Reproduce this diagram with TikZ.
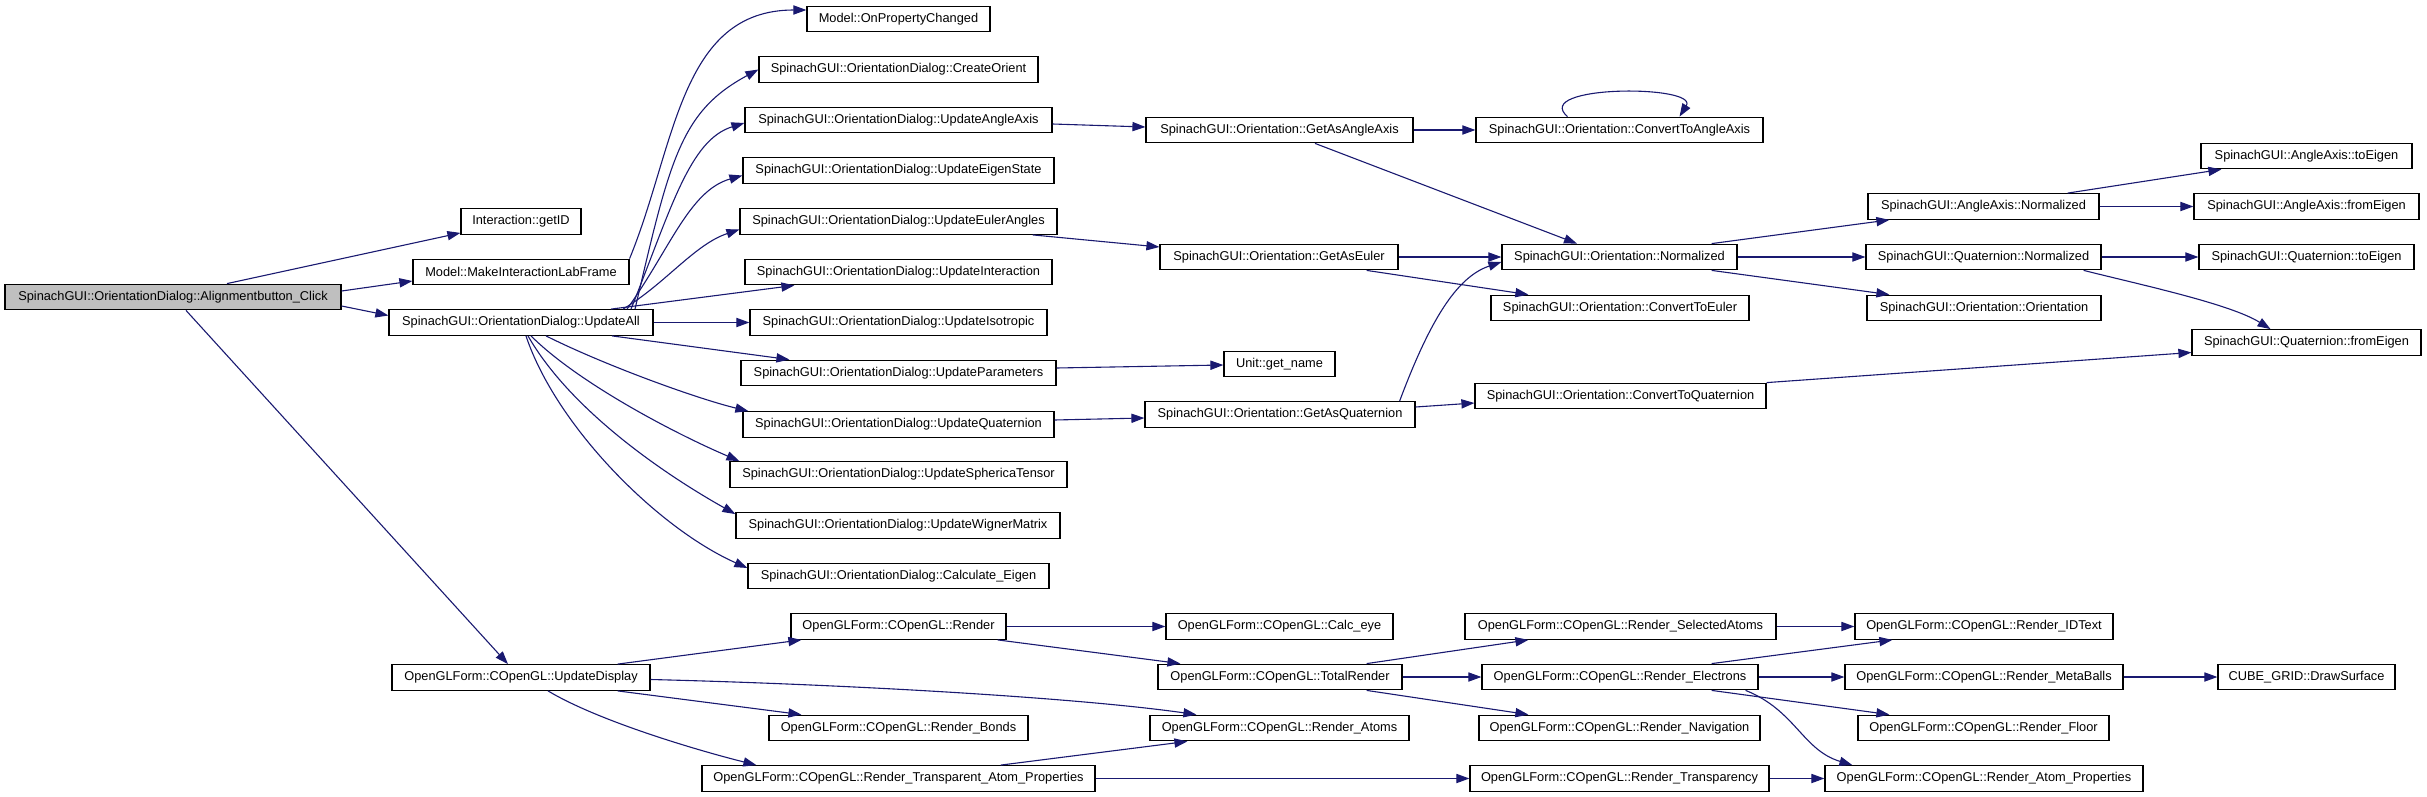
\documentclass[tikz,border=0pt]{standalone}
\usepackage{fontspec}
\setmainfont{Liberation Sans}
\usetikzlibrary{arrows.meta}
\definecolor{edge}{RGB}{25,25,112}
\definecolor{focus}{RGB}{191,191,191}
\tikzset{
 box/.style={draw=black, fill=white, line width=.6pt, minimum height=12.8pt, inner sep=0pt,
             font=\fontsize{6.4}{7.6}\selectfont},
 flow/.style={-{Triangle[length=6.5pt,width=4.6pt]}, line width=.55pt, draw=edge}
}
\begin{document}
\begin{tikzpicture}[x=0.5pt,y=-0.5pt]
\useasboundingbox (0,0) rectangle (2427,797);

\node[box, fill=focus, minimum width=168pt] (click) at (173,297) {SpinachGUI::OrientationDialog::Alignmentbutton\_Click};
\node[box, minimum width=60pt] (getid) at (521,221.5) {Interaction::getID};
\node[box, minimum width=108pt] (milf) at (521,272) {Model::MakeInteractionLabFrame};
\node[box, minimum width=132pt] (updall) at (521,322.5) {SpinachGUI::OrientationDialog::UpdateAll};
\node[box, minimum width=129pt] (upddisp) at (521,677.5) {OpenGLForm::COpenGL::UpdateDisplay};

\node[box, minimum width=91.5pt] (onprop) at (898.5,19) {Model::OnPropertyChanged};
\node[box, minimum width=139.5pt] (create) at (898.5,69.5) {SpinachGUI::OrientationDialog::CreateOrient};
\node[box, minimum width=153.5pt] (updaa) at (898.5,120) {SpinachGUI::OrientationDialog::UpdateAngleAxis};
\node[box, minimum width=155.5pt] (updeig) at (898.5,170.5) {SpinachGUI::OrientationDialog::UpdateEigenState};
\node[box, minimum width=158.5pt] (updeul) at (898.5,221.5) {SpinachGUI::OrientationDialog::UpdateEulerAngles};
\node[box, minimum width=153.5pt] (updint) at (898.5,272) {SpinachGUI::OrientationDialog::UpdateInteraction};
\node[box, minimum width=148.5pt] (updiso) at (898.5,322.5) {SpinachGUI::OrientationDialog::UpdateIsotropic};
\node[box, minimum width=157.5pt] (updpar) at (898.5,373) {SpinachGUI::OrientationDialog::UpdateParameters};
\node[box, minimum width=155.5pt] (updq) at (898.5,424.5) {SpinachGUI::OrientationDialog::UpdateQuaternion};
\node[box, minimum width=168.5pt] (updsph) at (898.5,474.5) {SpinachGUI::OrientationDialog::UpdateSphericaTensor};
\node[box, minimum width=162pt] (updwig) at (898,525.5) {SpinachGUI::OrientationDialog::UpdateWignerMatrix};
\node[box, minimum width=150.5pt] (calceig) at (898.5,576) {SpinachGUI::OrientationDialog::Calculate\_Eigen};
\node[box, minimum width=107.5pt] (render) at (898.5,626.5) {OpenGLForm::COpenGL::Render};
\node[box, minimum width=129.5pt] (bonds) at (898.5,728) {OpenGLForm::COpenGL::Render\_Bonds};
\node[box, minimum width=196.5pt] (transp) at (898.5,778.5) {OpenGLForm::COpenGL::Render\_Transparent\_Atom\_Properties};

\node[box, minimum width=133.5pt] (getaa) at (1279.5,130) {SpinachGUI::Orientation::GetAsAngleAxis};
\node[box, minimum width=119pt] (geteul) at (1279,257) {SpinachGUI::Orientation::GetAsEuler};
\node[box, minimum width=55.5pt] (unitname) at (1279.5,364) {Unit::get\_name};
\node[box, minimum width=135pt] (getq) at (1280,414.5) {SpinachGUI::Orientation::GetAsQuaternion};
\node[box, minimum width=113.5pt] (calceye) at (1279.5,626.5) {OpenGLForm::COpenGL::Calc\_eye};
\node[box, minimum width=122pt] (totrender) at (1280,677) {OpenGLForm::COpenGL::TotalRender};
\node[box, minimum width=129.5pt] (atoms) at (1279.5,728) {OpenGLForm::COpenGL::Render\_Atoms};

\node[box, minimum width=143.5pt] (cvtaa) at (1619.5,130) {SpinachGUI::Orientation::ConvertToAngleAxis};
\node[box, minimum width=117.5pt] (onorm) at (1619.5,257) {SpinachGUI::Orientation::Normalized};
\node[box, minimum width=129pt] (cvteul) at (1620,308) {SpinachGUI::Orientation::ConvertToEuler};
\node[box, minimum width=145.5pt] (cvtq) at (1620.5,396) {SpinachGUI::Orientation::ConvertToQuaternion};
\node[box, minimum width=155.5pt] (selatoms) at (1620.5,626.5) {OpenGLForm::COpenGL::Render\_SelectedAtoms};
\node[box, minimum width=138pt] (electrons) at (1620,677) {OpenGLForm::COpenGL::Render\_Electrons};
\node[box, minimum width=140.5pt] (navig) at (1619.5,728) {OpenGLForm::COpenGL::Render\_Navigation};
\node[box, minimum width=149.5pt] (transpcy) at (1619.5,778.5) {OpenGLForm::COpenGL::Render\_Transparency};

\node[box, minimum width=115.5pt] (aanorm) at (1983.5,206.5) {SpinachGUI::AngleAxis::Normalized};
\node[box, minimum width=117.5pt] (qnorm) at (1983.5,257) {SpinachGUI::Quaternion::Normalized};
\node[box, minimum width=117pt] (oorient) at (1984,308) {SpinachGUI::Orientation::Orientation};
\node[box, minimum width=129pt] (idtext) at (1984,626.5) {OpenGLForm::COpenGL::Render\_IDText};
\node[box, minimum width=139pt] (metaballs) at (1984,677) {OpenGLForm::COpenGL::Render\_MetaBalls};
\node[box, minimum width=125.5pt] (floor) at (1983.5,728) {OpenGLForm::COpenGL::Render\_Floor};
\node[box, minimum width=159pt] (atomprop) at (1984,778.5) {OpenGLForm::COpenGL::Render\_Atom\_Properties};

\node[box, minimum width=105.5pt] (aatoeig) at (2306.5,156) {SpinachGUI::AngleAxis::toEigen};
\node[box, minimum width=112.5pt] (aafromeig) at (2306.5,206.5) {SpinachGUI::AngleAxis::fromEigen};
\node[box, minimum width=107.5pt] (qtoeig) at (2306.5,257) {SpinachGUI::Quaternion::toEigen};
\node[box, minimum width=114.5pt] (qfromeig) at (2306.5,342.5) {SpinachGUI::Quaternion::fromEigen};
\node[box, minimum width=88.5pt] (drawsurf) at (2306.5,677) {CUBE\_GRID::DrawSurface};

\draw[flow] ([xshift=27pt]click.north) -- ([yshift=1pt]getid.south west);
\draw[flow] ([yshift=3pt]click.east) -- ([yshift=-4.5pt]milf.west);
\draw[flow] ([yshift=-4.5pt]click.east) -- ([yshift=3.5pt]updall.west);
\draw[flow] ([xshift=6.5pt]click.south) -- ([xshift=-6.5pt]upddisp.north);
\draw[flow] (milf.north east) .. controls +(46,-112) and +(-127,0) .. ([yshift=4.5pt]onprop.west);

\draw[flow] ([xshift=57pt]updall.north) .. controls +(35,-150) and +(-78,42) .. (create.west);
\draw[flow] ([xshift=55pt]updall.north) .. controls +(40,-100) and +(-55,17) .. ([yshift=-1.5pt]updaa.west);
\draw[flow] ([xshift=53pt]updall.north) .. controls +(43,-60) and +(-53,15) .. ([yshift=-2.5pt]updeig.west);
\draw[flow] ([xshift=51pt]updall.north) .. controls +(42,-25) and +(-45,15) .. ([yshift=-4pt]updeul.west);
\draw[flow] ([xshift=45pt]updall.north) -- ([xshift=25pt]updint.south west);
\draw[flow] (updall.east) -- (updiso.west);
\draw[flow] ([xshift=45.5pt]updall.south) -- ([xshift=24.5pt]updpar.north west);
\draw[flow] ([xshift=12.5pt]updall.south) .. controls +(60,30) and +(-50,-12) .. ([xshift=3pt]updq.north west);
\draw[flow] ([xshift=5pt]updall.south) .. controls +(45,45) and +(-70,-30) .. ([xshift=5pt]updsph.north west);
\draw[flow] ([xshift=3.5pt]updall.south) .. controls +(40,70) and +(-80,-45) .. ([yshift=-1pt]updwig.north west);
\draw[flow] ([xshift=2.5pt]updall.south) .. controls +(30,90) and +(-90,-40) .. ([yshift=4pt]calceig.west);

\draw[flow] ([yshift=-2pt]updaa.east) -- ([yshift=1.5pt]getaa.west);
\draw[flow] (getaa.east) -- (cvtaa.west);
\draw[flow] ([xshift=-26pt]cvtaa.north) .. controls +(-37,-32) and +(20,-32) .. ([xshift=30pt]cvtaa.north);
\draw[flow] ([xshift=17.75pt]getaa.south) -- ([xshift=-21.25pt]onorm.north);
\draw[flow] ([xshift=-12.5pt]updeul.south east) -- ([yshift=5pt]geteul.west);
\draw[flow] (geteul.east) -- (onorm.west);
\draw[flow] ([xshift=-16pt]geteul.south east) -- ([xshift=19pt]cvteul.north west);
\draw[flow] ([yshift=2.5pt]updpar.east) -- ([yshift=-0.5pt]unitname.west);
\draw[flow] ([yshift=2.25pt]updq.east) -- ([yshift=-1.75pt]getq.west);
\draw[flow] ([xshift=-8pt]getq.north east) .. controls +(30,-80) and +(-45,15) .. ([yshift=-2.5pt]onorm.west);
\draw[flow] ([yshift=3.75pt]getq.east) -- ([yshift=-3.5pt]cvtq.west);
\draw[flow] ([xshift=-13pt]onorm.north east) -- ([xshift=11pt]aanorm.south west);
\draw[flow] (onorm.east) -- (qnorm.west);
\draw[flow] ([xshift=-13pt]onorm.south east) -- ([xshift=11.5pt]oorient.north west);
\draw[flow] ([xshift=-16pt]aanorm.north east) -- ([xshift=10.5pt]aatoeig.south west);
\draw[flow] (aanorm.east) -- (aafromeig.west);
\draw[flow] (qnorm.east) -- (qtoeig.west);
\draw[flow] ([xshift=-9pt]qnorm.south east) .. controls +(60,15) and +(-40,-25) .. ([xshift=-18pt]qfromeig.north);
\draw[flow] (cvtq.north east) -- ([yshift=-5pt]qfromeig.west);

\draw[flow] ([xshift=-16.5pt]upddisp.north east) -- ([xshift=5.5pt]render.south west);
\draw[flow] ([yshift=-1pt]upddisp.east) .. controls +(200,5) and +(-120,-17) .. ([xshift=23.5pt]atoms.north west);
\draw[flow] ([xshift=-16.5pt]upddisp.south east) -- ([xshift=16.5pt]bonds.north west);
\draw[flow] ([xshift=13.5pt]upddisp.south) .. controls +(50,30) and +(-60,-15) .. ([xshift=27.5pt]transp.north west);
\draw[flow] (render.east) -- (calceye.west);
\draw[flow] ([xshift=-4.5pt]render.south east) -- ([xshift=11.5pt]totrender.north west);
\draw[flow] ([xshift=-18pt]totrender.north east) -- ([xshift=32pt]selatoms.south west);
\draw[flow] (totrender.east) -- (electrons.west);
\draw[flow] ([xshift=-18pt]totrender.south east) -- ([xshift=25pt]navig.north west);
\draw[flow] ([xshift=-47.5pt]transp.north east) -- ([xshift=19pt]atoms.south west);
\draw[flow] (transp.east) -- (transpcy.west);
\draw[flow] (selatoms.east) -- (idtext.west);
\draw[flow] ([xshift=-23.5pt]electrons.north east) -- ([xshift=19pt]idtext.south west);
\draw[flow] (electrons.east) -- (metaballs.west);
\draw[flow] ([xshift=-23.5pt]electrons.south east) -- ([xshift=16pt]floor.north west);
\draw[flow] ([xshift=-6.5pt]electrons.south east) .. controls +(50,20) and +(-50,-15) .. ([xshift=14pt]atomprop.north west);
\draw[flow] (metaballs.east) -- (drawsurf.west);
\draw[flow] (transpcy.east) -- (atomprop.west);

\end{tikzpicture}
\end{document}
